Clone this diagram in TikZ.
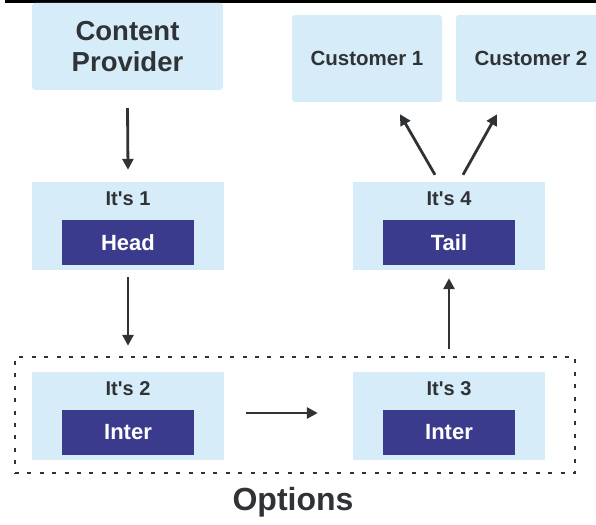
\documentclass[tikz,border=0pt]{standalone}
\usepackage{fontspec}
\setmainfont{Liberation Sans}[Ligatures=TeXOff]
\usetikzlibrary{arrows.meta}
\definecolor{lightbox}{HTML}{D6ECF8}
\definecolor{darkbox}{HTML}{3B3B8E}
\definecolor{ink}{HTML}{303336}
\tikzset{
  outerbox/.style={fill=lightbox, draw=none, inner sep=0pt, minimum width=192pt, minimum height=88pt},
  topbox/.style={fill=lightbox, draw=none, rounded corners=3pt, inner sep=0pt, minimum height=87pt, text=ink, font=\bfseries\fontsize{20.5}{24}\selectfont},
  innerbox/.style={fill=darkbox, draw=none, inner sep=0pt, minimum width=132pt, minimum height=45pt, text=white, font=\bfseries\fontsize{22}{26}\selectfont},
  itslabel/.style={inner sep=0pt, text=ink, font=\bfseries\fontsize{20}{24}\selectfont},
  conn/.style={draw=ink, line width=2.8pt, -{Triangle[length=11pt,width=11pt]}},
}
\begin{document}
\begin{tikzpicture}[x=1pt, y=-1pt]
\useasboundingbox (0,0) rectangle (596,524);
\clip (0,0) rectangle (596,524);
\fill[black] (5,0) rectangle (596,2.6);
% top row
\node[topbox, minimum width=191pt, align=center, font=\bfseries\fontsize{27.5}{31}\selectfont] (cp) at (127.5,46.5) {Content\\Provider};
\node[topbox, minimum width=150pt] (c1) at (367,58.5) {Customer 1};
\node[topbox, minimum width=150pt] (c2) at (531,58.5) {Customer 2};
% second row
\node[outerbox] (it1) at (128,226) {};
\node[innerbox] (head) at (128,242.5) {Head};
\node[itslabel] (l1) at (128,199) {It's 1};
\node[outerbox] (it4) at (449,226) {};
\node[innerbox] (tail) at (449,242.5) {Tail};
\node[itslabel] (l4) at (449,199) {It's 4};
% options group
\node[draw=ink, line width=2.5pt, dash pattern=on 4pt off 8.4pt, inner sep=0pt, minimum width=560pt, minimum height=116pt] (box) at (295,415) {};
\node[outerbox] (it2) at (128,416) {};
\node[innerbox] (inter2) at (128,432.5) {Inter};
\node[itslabel] (l2) at (128,389) {It's 2};
\node[outerbox] (it3) at (449,416) {};
\node[innerbox] (inter3) at (449,432.5) {Inter};
\node[itslabel] (l3) at (449,389) {It's 3};
\node[inner sep=0pt, text=ink, font=\bfseries\fontsize{32}{36}\selectfont] (opt) at (293,502) {Options};
% connectors
\draw[conn] ([yshift=-18pt]cp.south) -- ([yshift=12pt]it1.north);
\draw[conn] ([yshift=-7pt]it1.south) -- ([yshift=10pt]it1.south |- box.north);
\draw[conn] ([xshift=22pt,yshift=3pt]it2.east) -- ([xshift=-35pt,yshift=3pt]it3.west);
\draw[conn] ([yshift=7pt]it4.south |- box.north) -- ([yshift=-8pt]it4.south);
\draw[conn] ([xshift=-14pt,yshift=7pt]it4.north) -- ([xshift=33pt,yshift=-12pt]c1.south);
\draw[conn] ([xshift=14pt,yshift=7pt]it4.north) -- ([xshift=-34pt,yshift=-12pt]c2.south);
\end{tikzpicture}
\end{document}
